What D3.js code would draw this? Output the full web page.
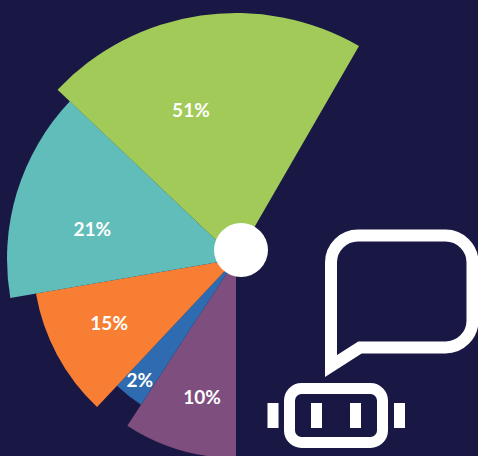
<!DOCTYPE html>
<html>
<head>
<meta charset="utf-8">
<script src="https://cdn.jsdelivr.net/npm/d3@7"></script>
<style>
  html, body { margin: 0; padding: 0; background: #191845; overflow: hidden; }
  svg { display: block; }
</style>
</head>
<body>
<script>
// Share of each slice, clockwise from the bottom of the fan.
const categories = ["purple", "blue", "orange", "teal", "green"];
const shares = [10, 2, 15, 21, 51];
// The fan is not a true pie: each slice has its own sweep (degrees) and reach.
const sweeps = [33.1, 10.1, 37, 53.3, 76.5];
const reaches = [199, 174, 203, 229, 246];
const colors = ["#7e4f7e", "#2e6bb0", "#f77e33", "#60bdb9", "#a1ca59"];

// Label placement, polar around the hub: degrees clockwise from north, distance in px.
const labelAngles = [-166.2, -141.3, -116.7, -77.9, -16.8];
const labelDistances = [142, 154, 142, 147, 156];

const width = 478, height = 456;
const hub = { x: 236, y: 259 };
const toRad = d3.scaleLinear().domain([0, 360]).range([0, 2 * Math.PI]);

const svg = d3.select("body").append("svg")
  .attr("width", width).attr("height", height);

svg.append("rect").attr("width", width).attr("height", height).attr("fill", "#191845");

const pie = d3.pie()
  .sort(null)
  .value(i => sweeps[i])
  .startAngle(toRad(180))
  .endAngle(toRad(180 + d3.sum(sweeps)));

const arc = d3.arc().innerRadius(0);
const fan = svg.append("g").attr("transform", `translate(${hub.x},${hub.y})`);

fan.selectAll("path.slice")
  .data(pie(d3.range(categories.length)))
  .join("path")
  .attr("class", "slice")
  .attr("fill", d => colors[d.data])
  .attr("d", d => arc.outerRadius(reaches[d.data])(d));

// White hub sits slightly above the point where the slices meet.
svg.append("circle")
  .attr("cx", 241).attr("cy", 250).attr("r", 27)
  .attr("fill", "#ffffff");

// Percentage labels
fan.selectAll("text")
  .data(shares)
  .join("text")
  .attr("x", (d, i) => labelDistances[i] * Math.sin(toRad(labelAngles[i])))
  .attr("y", (d, i) => -labelDistances[i] * Math.cos(toRad(labelAngles[i])))
  .attr("text-anchor", "middle")
  .attr("dominant-baseline", "central")
  .attr("font-family", "Lato, sans-serif")
  .attr("font-weight", 700)
  .attr("font-size", 19)
  .attr("fill", "#ffffff")
  .text(d => d + "%");

// Speech-bubble and robot glyph
const icon = svg.append("g").attr("fill", "none").attr("stroke", "#ffffff");

icon.append("path")
  .attr("stroke-width", 12)
  .attr("stroke-linejoin", "miter")
  .attr("stroke-miterlimit", 10)
  .attr("d", "M331,366 V262.5 A27,27 0 0 1 358,235.5 H445.5 A27,27 0 0 1 472.5,262.5 V320.5 A27,27 0 0 1 445.5,347.5 H360 Z");

icon.append("rect")
  .attr("x", 289.5).attr("y", 388.5)
  .attr("width", 93).attr("height", 54)
  .attr("rx", 12)
  .attr("stroke-width", 11);

svg.selectAll("rect.tick")
  .data([267.5, 311, 350, 394])
  .join("rect")
  .attr("class", "tick")
  .attr("x", d => d).attr("y", 403)
  .attr("width", 11).attr("height", 25)
  .attr("fill", "#ffffff");
</script>
</body>
</html>
